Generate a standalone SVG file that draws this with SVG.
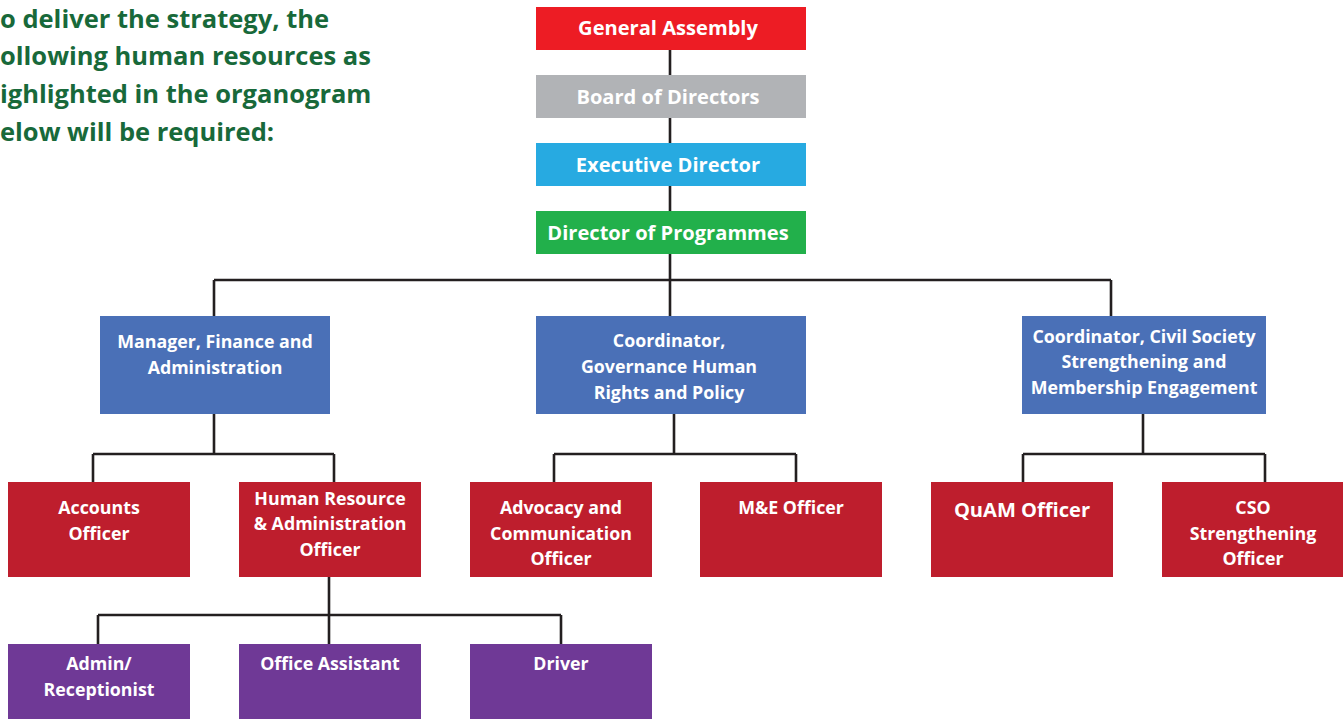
<svg xmlns="http://www.w3.org/2000/svg" width="1343" height="719" viewBox="0 0 1343 719">
  <style>
    .lbl { font-family: "Open Sans", Lato, "Liberation Sans", sans-serif; font-weight: bold; fill: #ffffff; text-anchor: middle; }
    .top { font-size: 20.1px; }
    .mid { font-size: 17.8px; }
    .intro { font-family: "Open Sans", Lato, "Liberation Sans", sans-serif; font-weight: bold; font-size: 25.5px; fill: #18693A; }
    .wire { fill: none; stroke: #231F20; stroke-width: 2.6; }
    .red1 { fill: #ED1C24; }
    .grey { fill: #B1B3B6; }
    .cyan { fill: #27AAE1; }
    .green { fill: #22B04B; }
    .blue { fill: #4A70B7; }
    .red2 { fill: #BE1E2D; }
    .purple { fill: #6F3996; }
  </style>

  <!-- intro paragraph -->
  <g id="intro">
    <text class="intro" x="0" y="28">o deliver the strategy, the</text>
    <text class="intro" x="0" y="65">ollowing human resources as</text>
    <text class="intro" x="0" y="103">ighlighted in the organogram</text>
    <text class="intro" x="0" y="141">elow will be required:</text>
  </g>

  <!-- connectors -->
  <g id="connectors">
    <path class="wire" d="M670 50 V211 M670 254 V280 M214 280 H1111 M214 280 V316 M670 280 V316 M1111 280 V316"/>
    <path class="wire" d="M214 414 V454 M93 454 H334 M93 454 V482 M334 454 V482"/>
    <path class="wire" d="M674 414 V454 M554 454 H796 M554 454 V482 M796 454 V482"/>
    <path class="wire" d="M1143 414 V454 M1023 454 H1265 M1023 454 V482 M1265 454 V482"/>
    <path class="wire" d="M329 577 V644 M98 615 H561 M98 615 V644 M561 615 V644"/>
  </g>

  <!-- top chain -->
  <g id="general-assembly">
    <rect class="red1" x="536" y="7" width="270" height="43"/>
    <text class="lbl top" x="668" y="35">General Assembly</text>
  </g>
  <g id="board-of-directors">
    <rect class="grey" x="536" y="75" width="270" height="43"/>
    <text class="lbl top" x="668" y="104">Board of Directors</text>
  </g>
  <g id="executive-director">
    <rect class="cyan" x="536" y="143" width="270" height="43"/>
    <text class="lbl top" x="668" y="172">Executive Director</text>
  </g>
  <g id="director-of-programmes">
    <rect class="green" x="536" y="211" width="270" height="43"/>
    <text class="lbl top" x="668" y="240">Director of Programmes</text>
  </g>

  <!-- second tier -->
  <g id="manager-finance">
    <rect class="blue" x="100" y="316" width="230" height="98"/>
    <text class="lbl mid" x="215" y="348">Manager, Finance and</text>
    <text class="lbl mid" x="215" y="374">Administration</text>
  </g>
  <g id="coordinator-governance">
    <rect class="blue" x="536" y="316" width="270" height="98"/>
    <text class="lbl mid" x="669" y="347">Coordinator,</text>
    <text class="lbl mid" x="669" y="373">Governance Human</text>
    <text class="lbl mid" x="669" y="399">Rights and Policy</text>
  </g>
  <g id="coordinator-civil-society">
    <rect class="blue" x="1022" y="316" width="244" height="98"/>
    <text class="lbl mid" x="1144" y="343">Coordinator, Civil Society</text>
    <text class="lbl mid" x="1144" y="368">Strengthening and</text>
    <text class="lbl mid" x="1144" y="394">Membership Engagement</text>
  </g>

  <!-- officers -->
  <g id="accounts-officer">
    <rect class="red2" x="8" y="482" width="182" height="95"/>
    <text class="lbl mid" x="99" y="514">Accounts</text>
    <text class="lbl mid" x="99" y="540">Officer</text>
  </g>
  <g id="hr-admin-officer">
    <rect class="red2" x="239" y="482" width="182" height="95"/>
    <text class="lbl mid" x="330" y="505">Human Resource</text>
    <text class="lbl mid" x="330" y="530">&amp; Administration</text>
    <text class="lbl mid" x="330" y="556">Officer</text>
  </g>
  <g id="advocacy-officer">
    <rect class="red2" x="470" y="482" width="182" height="95"/>
    <text class="lbl mid" x="561" y="514">Advocacy and</text>
    <text class="lbl mid" x="561" y="540">Communication</text>
    <text class="lbl mid" x="561" y="565">Officer</text>
  </g>
  <g id="me-officer">
    <rect class="red2" x="700" y="482" width="182" height="95"/>
    <text class="lbl mid" x="791" y="514">M&amp;E Officer</text>
  </g>
  <g id="quam-officer">
    <rect class="red2" x="931" y="482" width="182" height="95"/>
    <text class="lbl top" x="1022" y="517">QuAM Officer</text>
  </g>
  <g id="cso-officer">
    <rect class="red2" x="1162" y="482" width="181" height="95"/>
    <text class="lbl mid" x="1253" y="514">CSO</text>
    <text class="lbl mid" x="1253" y="540">Strengthening</text>
    <text class="lbl mid" x="1253" y="565">Officer</text>
  </g>

  <!-- support staff -->
  <g id="admin-receptionist">
    <rect class="purple" x="8" y="644" width="182" height="75"/>
    <text class="lbl mid" x="99" y="670">Admin/</text>
    <text class="lbl mid" x="99" y="696">Receptionist</text>
  </g>
  <g id="office-assistant">
    <rect class="purple" x="239" y="644" width="182" height="75"/>
    <text class="lbl mid" x="330" y="670">Office Assistant</text>
  </g>
  <g id="driver">
    <rect class="purple" x="470" y="644" width="182" height="75"/>
    <text class="lbl mid" x="561" y="670">Driver</text>
  </g>
</svg>
